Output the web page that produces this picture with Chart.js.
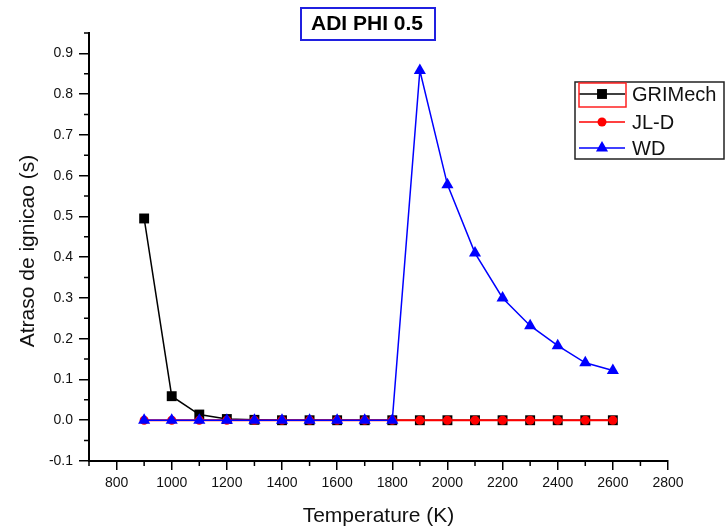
<!DOCTYPE html>
<html>
<head>
<meta charset="utf-8">
<script src="https://cdn.jsdelivr.net/npm/chart.js@4/dist/chart.umd.min.js"></script>
<style>
  html, body { margin: 0; padding: 0; background: #fff; }
  canvas { display: block; }
</style>
</head>
<body>
<canvas id="c" width="726" height="529"></canvas>
<script>
// ---- data ----
const chartTitle = "ADI PHI 0.5";
const xTitle = "Temperature (K)";
const yTitle = "Atraso de ignicao (s)";
const seriesNames = ["GRIMech", "JL-D", "WD"];
const temperatures = [900, 1000, 1100, 1200, 1300, 1400, 1500, 1600, 1700, 1800, 1900, 2000, 2100, 2200, 2300, 2400, 2500, 2600];
const griMech = [0.495, 0.059, 0.014, 0.003, 0.001, 0, 0, 0, 0, 0, 0, 0, 0, 0, 0, 0, 0, 0];
const jlD     = [0, 0, 0, 0, 0, 0, 0, 0, 0, 0, 0, 0, 0, 0, 0, 0, 0, 0];
const wd      = [0, 0, 0, 0, 0, 0, 0, 0, 0, 0, 0.858, 0.578, 0.41, 0.30, 0.232, 0.183, 0.141, 0.122];
const xMajorTicks = [800, 1000, 1200, 1400, 1600, 1800, 2000, 2200, 2400, 2600, 2800];
const xMinorTicks = [700, 900, 1100, 1300, 1500, 1700, 1900, 2100, 2300, 2500, 2700];
const yMajorTicks = [-0.1, 0.0, 0.1, 0.2, 0.3, 0.4, 0.5, 0.6, 0.7, 0.8, 0.9];
const yMinorTicks = [-0.05, 0.05, 0.15, 0.25, 0.35, 0.45, 0.55, 0.65, 0.75, 0.85, 0.95];

const FONT = "'Liberation Sans', Arial, sans-serif";
const toPts = arr => temperatures.map((t, i) => ({ x: t, y: arr[i] }));

const datasets = [
  { label: seriesNames[0], data: toPts(griMech), borderColor: '#000000', backgroundColor: '#000000',
    borderWidth: 1.5, pointStyle: 'rect', pointRadius: 7, pointBorderWidth: 0, order: 2 },
  { label: seriesNames[1], data: toPts(jlD), borderColor: '#ff0000', backgroundColor: '#ff0000',
    borderWidth: 2, pointStyle: 'circle', pointRadius: 4.5, pointBorderWidth: 0, order: 1 },
  { label: seriesNames[2], data: toPts(wd), borderColor: '#0000ff', backgroundColor: '#0000ff',
    borderWidth: 1.5, pointStyle: 'triangle', pointRadius: 7, pointBorderWidth: 0, order: 0 }
];

const decorPlugin = {
  id: 'decor',
  afterDraw(chart) {
    const ctx = chart.ctx;
    const xs = chart.scales.x, ys = chart.scales.y;
    const ca = chart.chartArea;
    ctx.save();
    // minor ticks
    ctx.strokeStyle = '#000'; ctx.lineWidth = 1.5;
    ctx.beginPath();
    xMinorTicks.forEach(v => { const px = xs.getPixelForValue(v); ctx.moveTo(px, ca.bottom); ctx.lineTo(px, ca.bottom + 5); });
    yMinorTicks.forEach(v => { const py = ys.getPixelForValue(v); ctx.moveTo(ca.left, py); ctx.lineTo(ca.left - 5, py); });
    ctx.stroke();

    // title box
    ctx.font = "bold 21px " + FONT;
    ctx.fillStyle = '#000';
    ctx.textAlign = 'center'; ctx.textBaseline = 'middle';
    ctx.fillText(chartTitle, 367, 24);
    ctx.strokeStyle = '#2020e0'; ctx.lineWidth = 2;
    ctx.strokeRect(301, 8, 134, 32);

    // axis titles
    ctx.fillStyle = '#111';
    ctx.font = "21px " + FONT;
    ctx.fillText(xTitle, (ca.left + ca.right) / 2, 516);
    ctx.save();
    ctx.translate(28, (ca.top + ca.bottom) / 2 + 4);
    ctx.rotate(-Math.PI / 2);
    ctx.fillText(yTitle, 0, 0);
    ctx.restore();

    // legend
    const lx = 575, ly = 82, lw = 149, lh = 77;
    ctx.fillStyle = '#fff';
    ctx.fillRect(lx, ly, lw, lh);
    ctx.strokeStyle = '#222'; ctx.lineWidth = 1.5;
    ctx.strokeRect(lx, ly, lw, lh);
    const rowsY = [94, 122, 148];
    chart.data.datasets.forEach((ds, i) => {
      const y = rowsY[i];
      ctx.strokeStyle = ds.borderColor; ctx.lineWidth = 1.5;
      ctx.beginPath(); ctx.moveTo(579, y); ctx.lineTo(625, y); ctx.stroke();
      ctx.fillStyle = ds.backgroundColor;
      ctx.strokeStyle = ds.backgroundColor;
      Chart.helpers.drawPoint(ctx, { pointStyle: ds.pointStyle, radius: ds.pointRadius, borderWidth: 0 }, 602, y);
      ctx.fillStyle = '#111';
      ctx.font = "20px " + FONT;
      ctx.textAlign = 'left'; ctx.textBaseline = 'middle';
      ctx.fillText(ds.label, 632, y + 1);
    });
    // selection rectangle around first legend symbol
    ctx.strokeStyle = '#ff2020'; ctx.lineWidth = 1.5;
    ctx.strokeRect(579, 83, 47, 24);
    ctx.restore();
  }
};

new Chart(document.getElementById('c'), {
  type: 'line',
  data: { datasets },
  options: {
    responsive: false,
    animation: false,
    events: [],
    layout: { padding: { top: 33, left: 0, right: 58, bottom: 0 } },
    plugins: { legend: { display: false }, title: { display: false }, tooltip: { enabled: false } },
    elements: { line: { tension: 0 } },
    scales: {
      x: {
        type: 'linear', min: 700, max: 2800,
        afterBuildTicks: s => { s.ticks = xMajorTicks.map(v => ({ value: v })); },
        afterFit: s => { s.height = 68; },
        ticks: { font: { family: FONT, size: 14 }, color: '#111', padding: 5, maxRotation: 0, autoSkip: false,
                 callback: v => String(v) },
        grid: { drawOnChartArea: false, drawTicks: true, tickLength: 9, color: '#000', lineWidth: 1.5 },
        border: { display: true, color: '#000', width: 2 }
      },
      y: {
        type: 'linear', min: -0.1, max: 0.95,
        afterBuildTicks: s => { s.ticks = yMajorTicks.map(v => ({ value: v })); },
        afterFit: s => { s.width = 89; },
        ticks: { font: { family: FONT, size: 14 }, color: '#111', padding: 6, autoSkip: false,
                 callback: v => Number(v).toFixed(1) },
        grid: { drawOnChartArea: false, drawTicks: true, tickLength: 10, color: '#000', lineWidth: 1.5 },
        border: { display: true, color: '#000', width: 2 }
      }
    }
  },
  plugins: [decorPlugin]
});
</script>
</body>
</html>
